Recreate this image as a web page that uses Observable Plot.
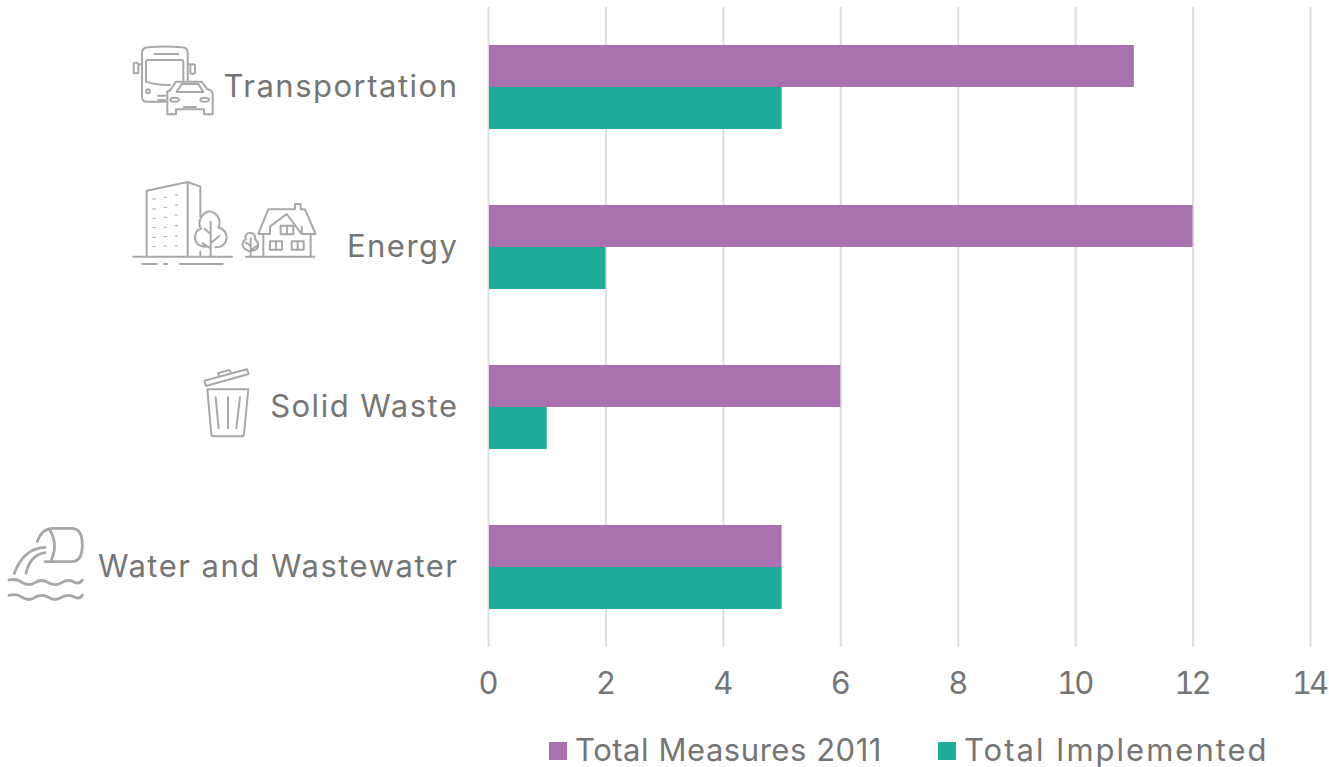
<!DOCTYPE html>
<html><head><meta charset="utf-8">
<script src="https://cdn.jsdelivr.net/npm/d3@7"></script>
<script src="https://cdn.jsdelivr.net/npm/@observablehq/plot@0.6"></script>
<style>
html,body{margin:0;padding:0;background:#fff;overflow:hidden}
body{width:1329px;height:767px;position:relative;font-family:Inter,sans-serif;color:#757575}
#chart svg{display:block}
#chart text{font-family:Inter,sans-serif}
#chart .yaxis text{letter-spacing:1.5px}
#chart .xaxis text{letter-spacing:-3px}
#legend{position:absolute;left:0;top:730px;height:40px;width:1329px;font-size:31px;line-height:40px}
#legend span{position:absolute;top:0;white-space:nowrap}
#legend i{position:absolute;top:12px;width:18px;height:18px}
#icons{position:absolute;left:0;top:0;pointer-events:none}
#icons *{fill:none;stroke:#a8a8a8;stroke-width:6;stroke-linecap:round;stroke-linejoin:round}
#icons .thick{stroke-width:8.5}
#icons .dots{stroke-width:3}
</style></head><body>
<div id="chart"></div>
<svg id="icons" width="1329" height="767" aria-hidden="true">
  <g transform="translate(120,30) scale(.3333)">
    <path d="M140 215H80Q66 215 66 200V70Q66 52 85 52Q135 47 185 52Q203 52 203 70V150M103 72H175M78 155V97Q78 90 85 90H183Q190 90 190 97V150M78 155Q110 166 150 165M66 103H55M203 103H212M115 197H135M115 210H135"/>
    <rect x="41" y="98" width="14" height="32" rx="5"/><rect x="211" y="103" width="14" height="28" rx="5"/>
    <circle cx="84" cy="184" r="6"/>
    <path d="M140 185Q150 184 155 175L168 155H245L262 178Q275 180 278 190V253H252V238H168V253H142V190M170 186L185 162H235L250 186ZM192 231H228"/>
    <ellipse cx="164" cy="209" rx="13" ry="6"/><ellipse cx="254" cy="209" rx="13" ry="6"/>
    <path d="M80 680V482L203 456V680M203 456L241 470V560M241 665V680M40 680H336M67 702H110M132 702H142M180 702H308"/>
    <path class="dots" d="M98 507h8M132 502h8M165 495h8M98 537h8M132 532h8M165 525h8M98 565h8M132 562h8M165 555h8M98 593h8M132 592h8M165 587h8M98 622h8M132 620h8M165 618h8M98 650h8M132 648h8M165 648h8"/>
    <path d="M272 680V575M272 612L254 597M272 640L298 618M272 655L248 640M258 650Q226 650 225 622Q226 600 243 596Q232 580 245 560Q265 532 290 555Q305 572 295 592Q320 600 320 625Q316 652 286 652"/>
    <path d="M392 680V625M392 648L378 638M392 660L410 648M388 664Q365 655 368 640Q372 630 378 628Q372 612 390 608Q408 610 405 628Q420 640 412 655Q405 662 396 662M378 680H583"/>
    <path d="M430 612V680M572 612V680M415 612L445 538H525V522H542V538H555L587 612H545L500 552L450 590M415 612H450V590M545 612V590"/>
    <rect x="482" y="587" width="38" height="26"/><path d="M501 587V613"/>
    <rect x="450" y="634" width="36" height="25"/><path d="M468 634V659"/>
    <rect x="515" y="634" width="36" height="25"/><path d="M533 634V659"/>
  </g>
  <g transform="translate(0,360) scale(.3333)">
    <path d="M622 88H745L732 222Q731 229 724 229H643Q635 229 634 222ZM647 112L656 205M684 112V205M720 112L709 205"/>
    <path d="M613 62L741 28L746 42L618 78ZM656 46L654 40L688 30L692 36"/>
    <path class="thick" d="M112 545Q125 505 160 505H215Q247 505 247 555Q247 605 215 605H135M148 508Q175 550 155 598M135 562Q70 565 43 640M135 578Q90 585 78 640"/>
    <path class="thick" d="M27 660Q50 655 67 668Q87 680 105 668Q125 655 145 668Q165 680 185 668Q205 655 225 668Q240 672 247 660M27 706Q50 700 67 712Q87 725 105 712Q125 700 145 712Q165 725 185 712Q205 700 225 712Q240 718 247 706"/>
  </g>
</svg>
<div id="legend">
  <i style="left:549px;background:#a971b0"></i><span style="left:575px;letter-spacing:.55px">Total Measures 2011</span>
  <i style="left:938px;background:#1cac98"></i><span style="left:964px;letter-spacing:2px">Total Implemented</span>
</div>
<script>
const categories = ["Transportation", "Energy", "Solid Waste", "Water and Wastewater"];
const totalMeasures2011 = [11, 12, 6, 5];
const totalImplemented = [5, 2, 1, 5];
const xTicks = [0, 2, 4, 6, 8, 10, 12, 14];
const purple = "#a971b0", teal = "#1cac98", grey = "#757575", grid = "#dedede";

const measures = categories.map((c, i) => ({category: c, value: totalMeasures2011[i]}));
const implemented = categories.map((c, i) => ({category: c, value: totalImplemented[i]}));

const plot = Plot.plot({
  width: 1329, height: 725,
  marginLeft: 488, marginRight: 19, marginTop: 7, marginBottom: 78,
  style: {fontSize: "31px", color: grey, background: "transparent", overflow: "visible"},
  x: {domain: [0, 14], ticks: xTicks, label: null},
  y: {domain: categories, padding: 0, label: null},
  marks: [
    Plot.ruleX(xTicks, {stroke: grid, strokeWidth: 2}),
    Plot.barX(measures, {x: "value", y: "category", fill: purple, insetTop: 38, insetBottom: 80, insetLeft: 1}),
    Plot.barX(implemented, {x: "value", y: "category", fill: teal, insetTop: 80, insetBottom: 38, insetLeft: 1}),
    Plot.axisX({ticks: xTicks, tickSize: 0, tickPadding: 24, fontSize: 31, fill: grey, label: null, dx: -1.5, tickFormat: d => String(d), className: "xaxis"}),
    Plot.axisY({tickSize: 0, tickPadding: 30, fontSize: 31, fill: grey, label: null, className: "yaxis"})
  ]
});
document.getElementById("chart").append(plot);
</script>
</body></html>
